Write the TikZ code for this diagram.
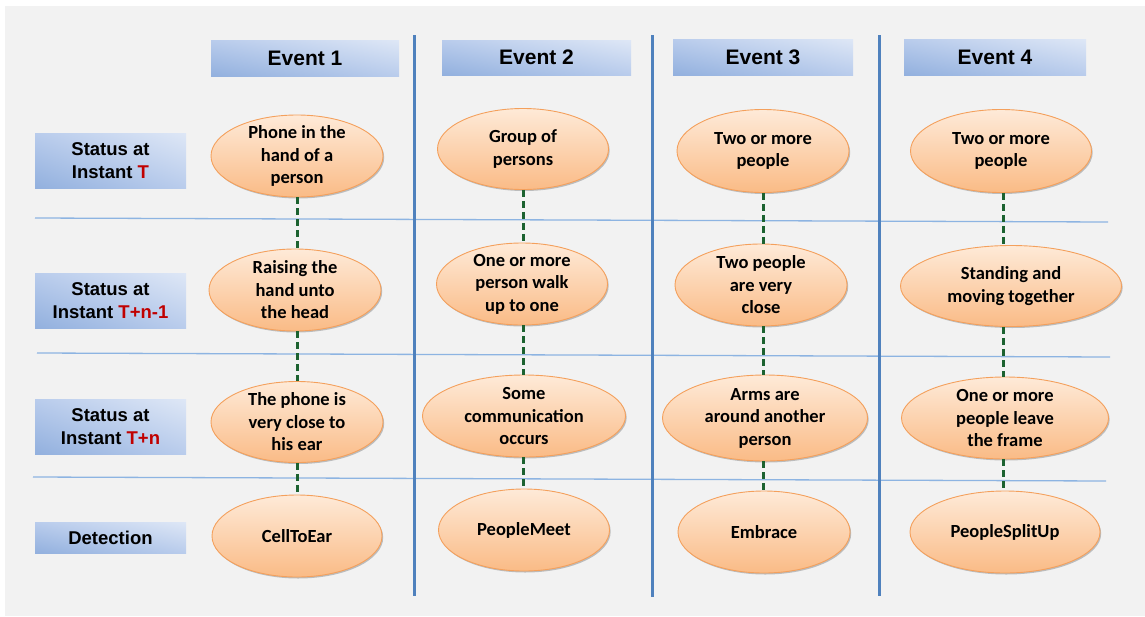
\documentclass[tikz,border=0pt]{standalone}
\usepackage{fontspec}
\usetikzlibrary{shapes.geometric,shadows,shadings}
\newfontfamily\labelfont{Liberation Sans}
\newfontfamily\ovalfont{Carlito}
\definecolor{pagebg}{RGB}{242,242,242}
\definecolor{boxdark}{RGB}{146,176,222}
\definecolor{boxmid}{RGB}{185,204,236}
\definecolor{boxlight}{RGB}{222,231,246}
\definecolor{ovaltop}{RGB}{254,234,216}
\definecolor{ovalbottom}{RGB}{250,187,134}
\definecolor{ovalline}{RGB}{244,160,92}
\definecolor{sepblue}{RGB}{79,129,189}
\definecolor{rowline}{RGB}{141,180,226}
\definecolor{linkgreen}{RGB}{28,98,48}
\definecolor{instred}{RGB}{192,0,0}
\begin{document}
\begin{tikzpicture}[x=1pt,y=-1pt,
  shadebox/.style={rectangle, inner sep=0pt,
    lower left=boxdark, upper right=boxlight, upper left=boxmid, lower right=boxmid,
    text=black, align=center},
  eventbox/.style={shadebox, font=\labelfont\bfseries\fontsize{21}{25}\selectfont},
  rowbox/.style={shadebox, minimum width=151pt, font=\labelfont\bfseries\fontsize{18.5}{22.7}\selectfont},
  oval/.style={ellipse, inner sep=0pt, draw=ovalline, line width=0.9pt,
    top color=ovaltop, bottom color=ovalbottom,
    drop shadow={shadow xshift=1.2pt, shadow yshift=-1.5pt, opacity=0.22, fill=black}},
  ovaltext/.style={align=center, inner sep=0pt, text=black,
    font=\ovalfont\bfseries\fontsize{18.5}{22.5}\selectfont},
  link/.style={draw=linkgreen, line width=3pt, dash pattern=on 7pt off 4pt},
  colsep/.style={draw=sepblue, line width=3pt},
  rowsep/.style={draw=rowline, line width=1.3pt}
]
\useasboundingbox (0,0) rectangle (1145,616);
% page and panel background
\fill[white] (0,0) rectangle (1145,616);
\fill[pagebg] (5,6) rectangle (1145,616);

% horizontal row separators
\draw[rowsep] (35,218) -- (1108,222);
\draw[rowsep] (37,353) -- (1110,357);
\draw[rowsep] (33,477) -- (1106,481);

% vertical column separators
\draw[colsep] (414,35) -- (414,596);
\draw[colsep] (652,35) -- (652,597);
\draw[colsep] (879,35) -- (879,596);

% column headers
\node[eventbox, minimum width=188pt, minimum height=36pt] (ev1) at (305,58) {Event 1};
\node[eventbox, minimum width=189pt, minimum height=35pt] (ev2) at (536.5,57.5) {Event 2};
\node[eventbox, minimum width=180pt, minimum height=36pt] (ev3) at (763,57) {Event 3};
\node[eventbox, minimum width=182pt, minimum height=36pt] (ev4) at (995,57) {Event 4};

% row headers
\node[rowbox, minimum height=55pt] (r1) at (110.5,160.5) {Status at\\Instant \textcolor{instred}{T}};
\node[rowbox, minimum height=55pt] (r2) at (110.5,300.5) {Status at\\Instant \textcolor{instred}{T+n-1}};
\node[rowbox, minimum height=55pt] (r3) at (110.5,426.5) {Status at\\Instant \textcolor{instred}{T+n}};
\node[rowbox, minimum height=31pt] (r4) at (110.5,537.5) {Detection};

% event 1
\node[oval, minimum width=172pt, minimum height=82pt] (e11) at (297,156) {};
\node[oval, minimum width=172pt, minimum height=82pt] (e12) at (295,290) {};
\node[oval, minimum width=172pt, minimum height=81pt] (e13) at (297,422) {};
\node[oval, minimum width=170pt, minimum height=82pt] (e14) at (297,536) {};
% event 2
\node[oval, minimum width=171pt, minimum height=81pt] (e21) at (523,149) {};
\node[oval, minimum width=171pt, minimum height=82pt] (e22) at (522,284) {};
\node[oval, minimum width=203pt, minimum height=82pt] (e23) at (524,416) {};
\node[oval, minimum width=171pt, minimum height=82pt] (e24) at (524,530) {};
% event 3
\node[oval, minimum width=172pt, minimum height=83pt] (e31) at (763,151) {};
\node[oval, minimum width=172pt, minimum height=82pt] (e32) at (761,285) {};
\node[oval, minimum width=205pt, minimum height=86pt] (e33) at (765,418) {};
\node[oval, minimum width=172pt, minimum height=82pt] (e34) at (764,532) {};
% event 4
\node[oval, minimum width=181pt, minimum height=83pt] (e41) at (1001,151) {};
\node[oval, minimum width=221pt, minimum height=81pt] (e42) at (1011,286) {};
\node[oval, minimum width=207pt, minimum height=82pt] (e43) at (1005,418) {};
\node[oval, minimum width=190pt, minimum height=82pt] (e44) at (1005,532) {};

% dashed links between successive states, kept vertical in each column
\coordinate (x1) at (297,0);
\coordinate (x2) at (523,0);
\coordinate (x3) at (763,0);
\coordinate (x4) at (1003,0);
\foreach \c in {1,2,3,4}{
  \draw[link] (x\c |- e\c1.south) -- (x\c |- e\c2.north);
  \draw[link] (x\c |- e\c2.south) -- (x\c |- e\c3.north);
  \draw[link] (x\c |- e\c3.south) -- (x\c |- e\c4.north);
}

% oval captions
\node[ovaltext] (t11) at (e11) {Phone in the\\hand of a\\person};
\node[ovaltext] (t12) at (e12) {Raising the\\hand unto\\the head};
\node[ovaltext] (t13) at (e13) {The phone is\\very close to\\his ear};
\node[ovaltext] (t14) at (e14) {CellToEar};
\node[ovaltext] (t21) at (e21) {Group of\\persons};
\node[ovaltext] (t22) at (e22) {One or more\\person walk\\up to one};
\node[ovaltext] (t23) at (e23) {Some\\communication\\occurs};
\node[ovaltext] (t24) at (e24) {PeopleMeet};
\node[ovaltext] (t31) at (e31) {Two or more\\people};
\node[ovaltext] (t32) at (e32) {Two people\\are very\\close};
\node[ovaltext] (t33) at (e33) {Arms are\\around another\\person};
\node[ovaltext] (t34) at (e34) {Embrace};
\node[ovaltext] (t41) at (e41) {Two or more\\people};
\node[ovaltext] (t42) at (e42) {Standing and\\moving together};
\node[ovaltext] (t43) at (e43) {One or more\\people leave\\the frame};
\node[ovaltext] (t44) at (e44) {PeopleSplitUp};
\end{tikzpicture}
\end{document}
